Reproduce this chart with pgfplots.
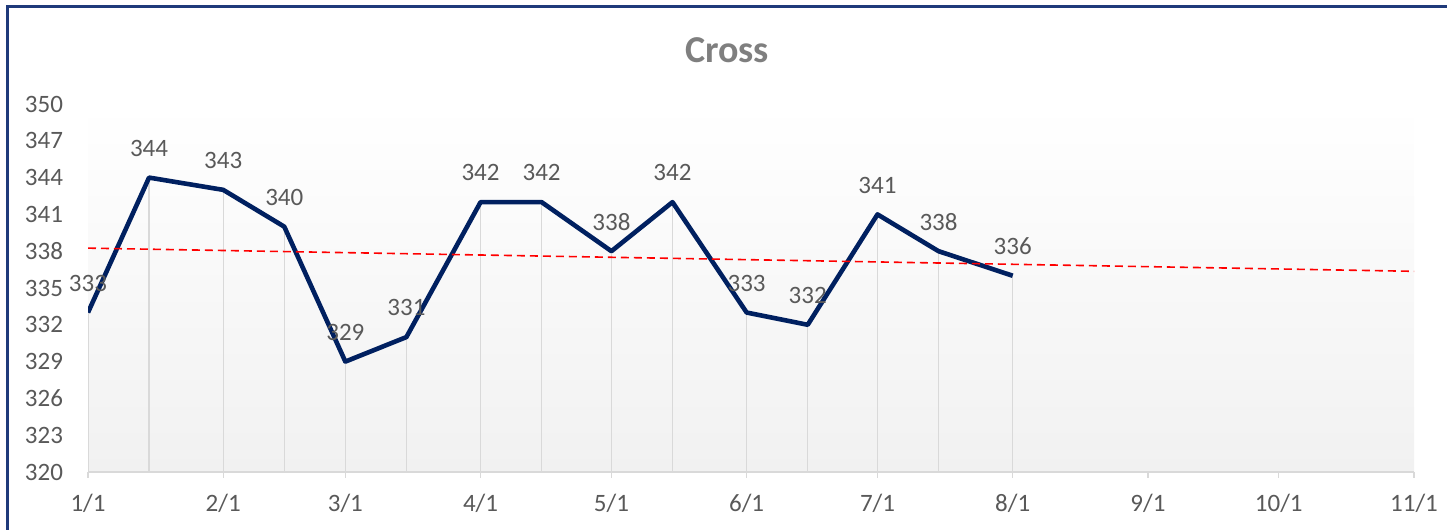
\documentclass[border=0pt]{standalone}
\usepackage{pgfplots}
\pgfplotsset{compat=1.18}
\usepackage{fontspec}
\setmainfont{Carlito}
\definecolor{navy}{HTML}{002060}
\definecolor{txt}{HTML}{595959}
\definecolor{ttl}{HTML}{7F7F7F}
\definecolor{gridc}{HTML}{D9D9D9}
\definecolor{bordc}{HTML}{1F3A7A}
\definecolor{gtop}{HTML}{FFFFFF}
\definecolor{gbot}{HTML}{F1F1F1}
\begin{document}
\begin{tikzpicture}[x=1pt,y=1pt]
\useasboundingbox (0,0) rectangle (723.5,265);
\draw[bordc, line width=1.2pt] (3.8,-2) -- (3.8,261.8) -- (726,261.8);
\node[font=\bfseries\fontsize{19}{22}\selectfont, text=ttl] at (363.5,240) {Cross};
\begin{axis}[
  at={(44pt,29pt)}, anchor=south west,
  scale only axis, width=663pt, height=184pt,
  axis background/.style={top color=gtop, bottom color=gbot},
  xmin=0, xmax=304, ymin=320, ymax=350,
  xtick={0,31,59,90,120,151,181,212,243,273,304},
  xticklabels={1/1,2/1,3/1,4/1,5/1,6/1,7/1,8/1,9/1,10/1,11/1},
  ytick={320,323,...,350},
  axis x line*=bottom, axis y line*=left,
  x axis line style={draw=gridc, line width=0.7pt, -},
  y axis line style={draw=none},
  xtick style={draw=gridc, line width=0.7pt},
  ytick style={draw=none},
  tick align=outside, major tick length=3pt,
  tick label style={font=\fontsize{12.5}{14}\selectfont, text=txt},
  yticklabel style={xshift=-6pt},
  xticklabel style={yshift=-4.5pt},
  /pgf/number format/assume math mode=true,
  /pgf/number format/1000 sep={},
  clip mode=individual,
]
\addplot[ycomb, draw=gridc, line width=0.7pt, no marks] coordinates {
(0,333) (14,344) (31,343) (45,340) (59,329) (73,331) (90,342) (104,342)
(120,338) (134,342) (151,333) (165,332) (181,341) (195,338) (212,336)};
\addplot[navy, line width=2.3pt, line join=round, no marks,
  nodes near coords,
  every node near coord/.append style={font=\fontsize{12.5}{14}\selectfont, text=txt, yshift=6pt}]
coordinates {
(0,333) (14,344) (31,343) (45,340) (59,329) (73,331) (90,342) (104,342)
(120,338) (134,342) (151,333) (165,332) (181,341) (195,338) (212,336)};
\addplot[red, line width=0.8pt, dash pattern=on 4pt off 2.5pt, no marks] coordinates {(0,338.25) (304,336.36)};
\end{axis}
\end{tikzpicture}
\end{document}
